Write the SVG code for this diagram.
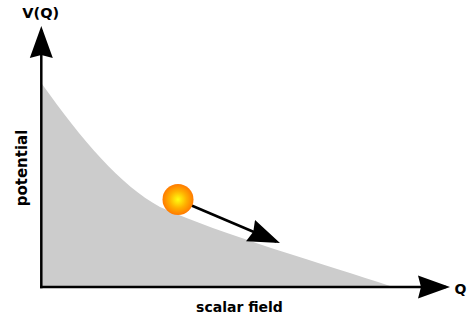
<svg xmlns="http://www.w3.org/2000/svg" width="468" height="320" viewBox="0 0 468 320">
  <style>
    .lbl { font-family: "DejaVu Sans", "Liberation Sans", sans-serif; font-weight: bold; fill: #000; }
    .axis { stroke: #000; stroke-width: 2.5; fill: none; }
  </style>
  <defs>
    <marker id="head" markerUnits="userSpaceOnUse" markerWidth="32" markerHeight="24" viewBox="0 0 32 24" refX="28" refY="12" orient="auto">
      <path d="M32,12 L0,0.5 L3,12 L0,23.5 Z" fill="#000"/>
    </marker>
    <radialGradient id="ballGrad" cx="0.5" cy="0.5" r="0.5">
      <stop offset="0" stop-color="#ffff10"/>
      <stop offset="0.55" stop-color="#ffb000"/>
      <stop offset="1" stop-color="#ff7a00"/>
    </radialGradient>
  </defs>

  <g id="potential-area">
    <path d="M42,84 C82,140 120,185 160,207 C220,234 330,266 390,286 L42,286 Z" fill="#cccccc"/>
  </g>

  <g id="connectors">
    <line id="y-axis" class="axis" x1="41.3" y1="288.2" x2="41.3" y2="30" marker-end="url(#head)"/>
    <line id="x-axis" class="axis" x1="40" y1="287" x2="446" y2="287" marker-end="url(#head)"/>
    <line id="motion" class="axis" stroke-width="3" x1="188" y1="204" x2="276.3" y2="241.5" marker-end="url(#head)"/>
  </g>

  <g id="ball">
    <circle cx="178" cy="199.5" r="15.5" fill="url(#ballGrad)"/>
  </g>

  <g id="labels">
    <text class="lbl" x="40.7" y="17.5" font-size="14.5" text-anchor="middle">V(Q)</text>
    <text class="lbl" x="454.5" y="293.5" font-size="14">Q</text>
    <text class="lbl" x="239.5" y="312.3" font-size="14" text-anchor="middle">scalar field</text>
    <text class="lbl" font-size="15" text-anchor="middle" transform="translate(26.5,168) rotate(-90)">potential</text>
  </g>
</svg>
